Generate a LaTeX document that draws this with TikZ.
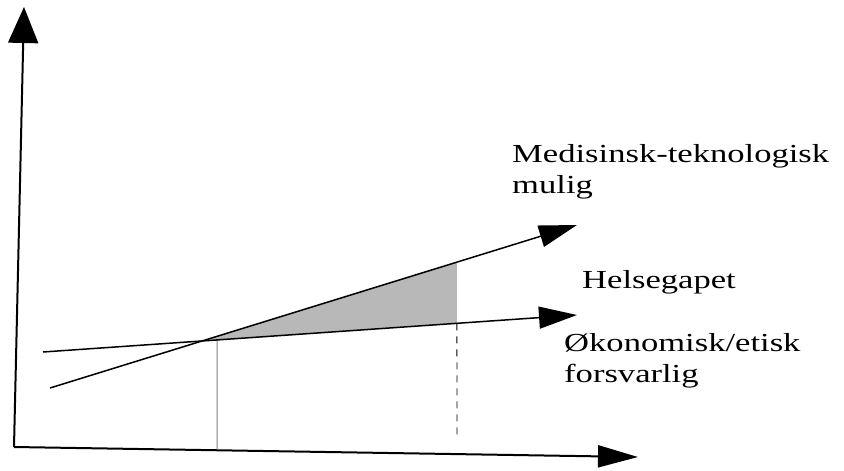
\documentclass[tikz,border=0pt]{standalone}
\usepackage{fontspec}
\setmainfont{Liberation Serif}[FakeStretch=1.33]
\usetikzlibrary{arrows.meta,calc}
\begin{document}
\begin{tikzpicture}[x=1pt,y=-1pt,
    axis/.style={line width=2pt,-{Triangle[length=36pt,width=30pt]}},
    trend/.style={line width=1.5pt,-{Triangle[length=38pt,width=22pt]}},
    lbl/.style={anchor=north west,inner sep=0pt,align=left,font=\fontsize{26}{31}\selectfont}]
\useasboundingbox (0,0) rectangle (844,471);
% akser
\coordinate (O) at (14,447);
\coordinate (Y) at (24,7);
\coordinate (X) at (638,457);
% linjer
\coordinate (M0) at (50,388);
\coordinate (M1) at (577,225);
\coordinate (K0) at (43,352);
\coordinate (K1) at (577,315);
\coordinate (S) at ($(M0)!0.288!(M1)$);
\coordinate (A) at ($(M0)!0.772!(M1)$);
\coordinate (B) at ($(K0)!0.775!(K1)$);
\coordinate (V0) at ($(K0)!0.326!(K1)$);
\coordinate (V1) at (217,449);
\coordinate (D) at (457,440);
% gapet
\fill[black!28] (S) -- (A) -- (B) -- cycle;
\draw[gray,line width=1pt] (V0) -- (V1);
\draw[line width=0.8pt,dash pattern=on 7pt off 6pt] (B) -- (D);
\draw[axis] (O) -- (Y);
\draw[axis,-{Triangle[length=40pt,width=22pt]}] (O) -- (X);
\draw[trend] (M0) -- (M1);
\draw[trend] (K0) -- (K1);
\node[lbl] (med) at (512,144) {Medisinsk-teknologisk\\mulig};
\node[lbl] (gap) at (582,270) {Helsegapet};
\node[lbl] (oko) at (564,333) {Økonomisk/etisk\\forsvarlig};
\end{tikzpicture}
\end{document}
